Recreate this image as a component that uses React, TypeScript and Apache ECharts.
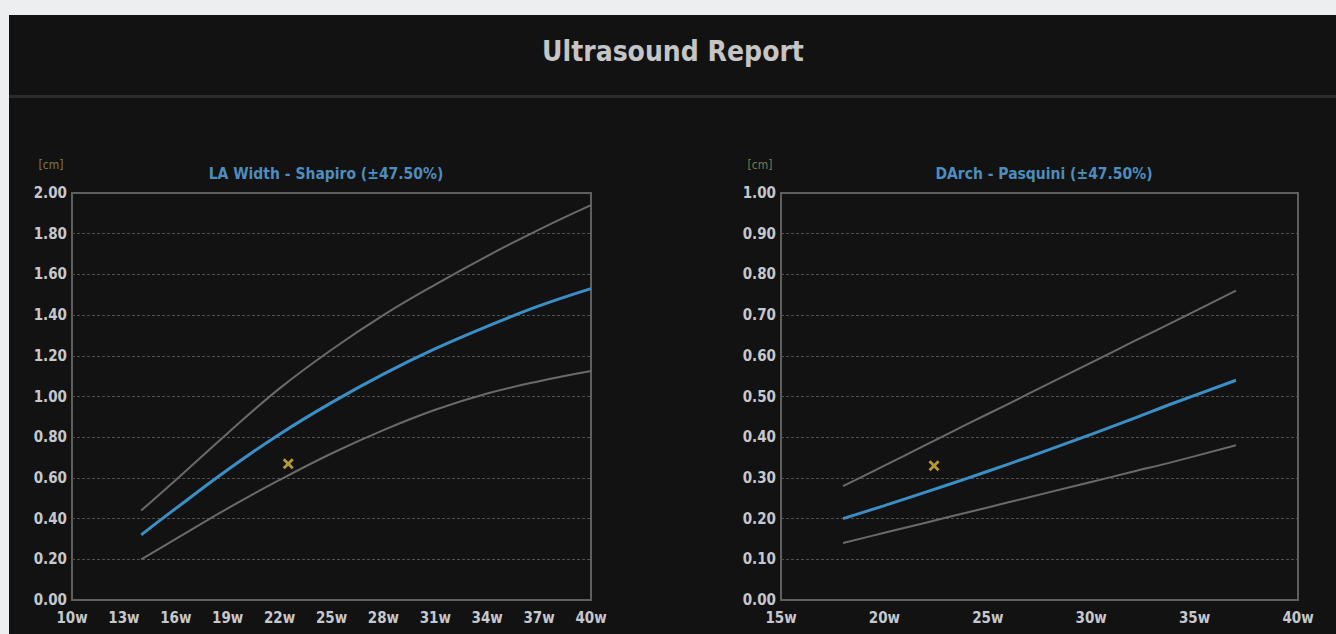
import React, { useEffect, useRef } from "react";
import * as echarts from "echarts";

// ---- Data ----
const mainTitle = "Ultrasound Report";
const unitLabel = "[cm]";

const laTitle = "LA Width - Shapiro (±47.50%)";
const laWeeks = [14, 16, 19, 22, 25, 28, 31, 34, 37, 40];
const laMean = [0.32, 0.45, 0.64, 0.815, 0.97, 1.11, 1.235, 1.345, 1.445, 1.53];
const laUpper = [0.44, 0.59, 0.82, 1.04, 1.23, 1.4, 1.55, 1.69, 1.82, 1.94];
const laLower = [0.2, 0.3, 0.45, 0.59, 0.72, 0.835, 0.935, 1.015, 1.075, 1.125];
const laPatient = [22.5, 0.67];
const laWeekTicks = [10, 13, 16, 19, 22, 25, 28, 31, 34, 37, 40];

const daTitle = "DArch - Pasquini (±47.50%)";
const daWeeks = [18, 20, 22, 24, 26, 28, 30, 32, 34, 37];
const daMean = [0.2, 0.232, 0.265, 0.299, 0.334, 0.37, 0.407, 0.445, 0.484, 0.54];
const daUpper = [0.28, 0.33, 0.381, 0.432, 0.482, 0.533, 0.583, 0.634, 0.684, 0.76];
const daLower = [0.14, 0.165, 0.19, 0.215, 0.24, 0.265, 0.29, 0.315, 0.34, 0.38];
const daPatient = [22.4, 0.33];

const FONT = "'DejaVu Sans Condensed', 'DejaVu Sans', sans-serif";
const BLUE = "#3a8fc6";
const GRAY = "#6a6a6a";
const YELLOW = "#dcbd3e";
const X_SYMBOL =
  "path://M0,1.8L1.8,0L5,3.2L8.2,0L10,1.8L6.8,5L10,8.2L8.2,10L5,6.8L1.8,10L0,8.2L3.2,5Z";

const pairs = (xs: number[], ys: number[]) => xs.map((x, i) => [x, ys[i]]);

export default function App() {
  const ref = useRef<HTMLDivElement>(null);

  useEffect(() => {
    if (!ref.current) return;
    const chart = echarts.init(ref.current, undefined, { renderer: "svg" });

    const axisLabelStyle = {
      color: "#c6c8cd",
      fontSize: 15,
      fontWeight: "bold" as any,
      fontFamily: FONT,
    };
    const splitLine = {
      show: true,
      showMinLine: false,
      showMaxLine: false,
      lineStyle: { color: "#505050", type: [3, 2] as any, width: 1 },
    };

    const lineSeries = (data: number[][], idx: number, color: string, width: number) => ({
      type: "line",
      xAxisIndex: idx,
      yAxisIndex: idx,
      data,
      smooth: 0.4,
      showSymbol: false,
      lineStyle: { color, width },
      silent: true,
    });

    const grids = [
      { left: 63, top: 178, width: 519, height: 407 },
      { left: 772, top: 178, width: 517, height: 407 },
    ];

    const text = (x: number, y: number, t: string, fill: string, font: string) => ({
      type: "text",
      x,
      y,
      style: { text: t, fill, font, textAlign: "center", textVerticalAlign: "middle" },
      silent: true,
    });

    chart.setOption({
      animation: false,
      backgroundColor: "#121212",
      grid: grids.map((g) => ({
        ...g,
        show: true,
        borderColor: "#5f5f5f",
        borderWidth: 2,
        backgroundColor: "transparent",
      })),
      xAxis: [
        {
          type: "value",
          gridIndex: 0,
          min: 10,
          max: 40,
          axisLine: { show: false },
          axisTick: { show: false, customValues: laWeekTicks },
          splitLine: { show: false },
          axisLabel: {
            ...axisLabelStyle,
            margin: 10,
            customValues: laWeekTicks,
            formatter: (v: number) => `${v}w`,
          },
        },
        {
          type: "value",
          gridIndex: 1,
          min: 15,
          max: 40,
          interval: 5,
          axisLine: { show: false },
          axisTick: { show: false },
          splitLine: { show: false },
          axisLabel: { ...axisLabelStyle, margin: 10, formatter: (v: number) => `${v}w` },
        },
      ],
      yAxis: [
        {
          type: "value",
          gridIndex: 0,
          min: 0,
          max: 2,
          interval: 0.2,
          axisLine: { show: false },
          axisTick: { show: false },
          splitLine,
          axisLabel: { ...axisLabelStyle, margin: 5, formatter: (v: number) => v.toFixed(2) },
        },
        {
          type: "value",
          gridIndex: 1,
          min: 0,
          max: 1,
          interval: 0.1,
          axisLine: { show: false },
          axisTick: { show: false },
          splitLine,
          axisLabel: { ...axisLabelStyle, margin: 5, formatter: (v: number) => v.toFixed(2) },
        },
      ],
      series: [
        lineSeries(pairs(laWeeks, laUpper), 0, GRAY, 2),
        lineSeries(pairs(laWeeks, laLower), 0, GRAY, 2),
        lineSeries(pairs(laWeeks, laMean), 0, BLUE, 3),
        {
          type: "scatter",
          xAxisIndex: 0,
          yAxisIndex: 0,
          data: [laPatient],
          symbol: X_SYMBOL,
          symbolSize: 11,
          itemStyle: { color: YELLOW },
          silent: true,
        },
        lineSeries(pairs(daWeeks, daUpper), 1, GRAY, 2),
        lineSeries(pairs(daWeeks, daLower), 1, GRAY, 2),
        lineSeries(pairs(daWeeks, daMean), 1, BLUE, 3),
        {
          type: "scatter",
          xAxisIndex: 1,
          yAxisIndex: 1,
          data: [daPatient],
          symbol: X_SYMBOL,
          symbolSize: 11,
          itemStyle: { color: YELLOW },
          silent: true,
        },
      ],
      graphic: [
        {
          type: "rect",
          shape: { x: 0, y: 80, width: 1327, height: 3 },
          style: { fill: "#2b2b2b" },
          silent: true,
        },
        text(664, 36, mainTitle, "#c5c5c5", `bold 28px ${FONT}`),
        text(317, 159, laTitle, "#4d8dbf", `bold 15.5px ${FONT}`),
        text(1035, 159, daTitle, "#4d8dbf", `bold 15.5px ${FONT}`),
        text(42, 150, unitLabel, "#7b7a4c", `12px ${FONT}`),
        text(751, 150, unitLabel, "#7b7a4c", `12px ${FONT}`),
      ],
    });

    return () => chart.dispose();
  }, []);

  return (
    <div
      style={{
        position: "fixed",
        left: 0,
        top: 0,
        width: 1336,
        height: 634,
        background: "#eceef0",
        overflow: "hidden",
      }}
    >
      <div
        ref={ref}
        style={{ position: "absolute", left: 9, top: 15, width: 1327, height: 619 }}
      />
    </div>
  );
}
